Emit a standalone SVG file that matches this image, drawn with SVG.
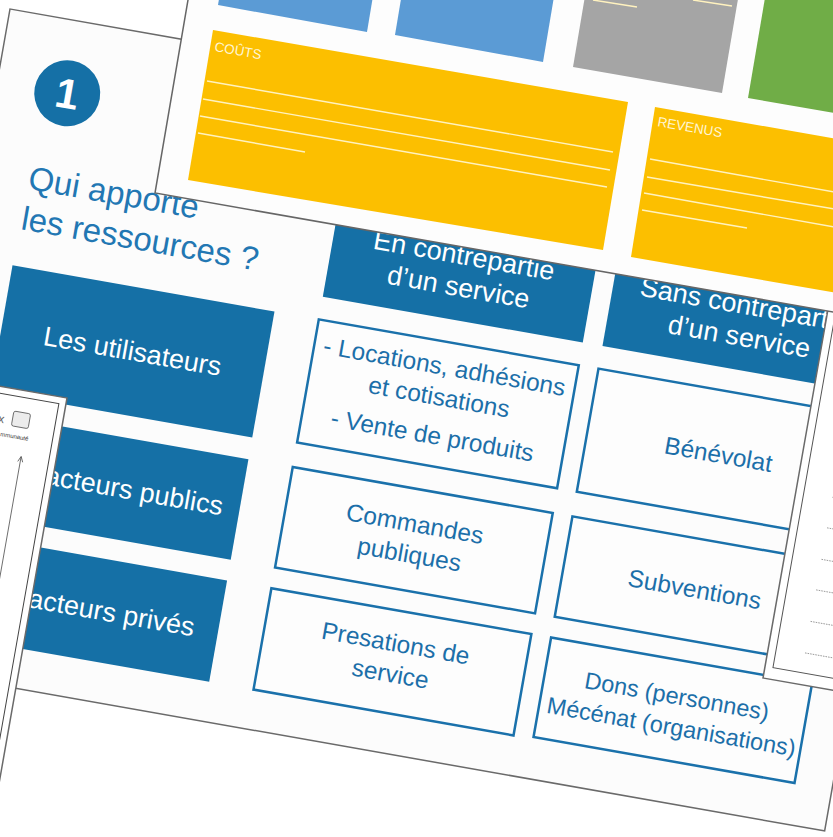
<svg xmlns="http://www.w3.org/2000/svg" width="833" height="837" viewBox="0 0 833 837">
<style>
text{font-family:"Liberation Sans",Arial,"Noto Sans",sans-serif}
.slide{fill:#fcfcfc;stroke:#6a6a6a;stroke-width:1.5}
.fb{fill:#1570a6}
.hd{fill:#ffffff;font-size:27px;text-anchor:middle}
.ob{fill:#fdfdfd;stroke:#1a71ab;stroke-width:2.5}
.bt{fill:#1c6fa9;font-size:24.5px;text-anchor:middle}
.wl{stroke:#fff2bf;stroke-width:1.4;fill:none}
.cl{fill:#fff6d6;font-size:13.5px}
.dot{stroke:#8a8a8a;stroke-width:0.8;stroke-dasharray:1.6 1}
</style>
<rect width="833" height="837" fill="#ffffff"/>

<g id="main-slide" transform="translate(10,9) rotate(10)">
  <rect class="slide" x="0" y="0" width="945" height="668"/>
  <g id="badge">
    <circle cx="71" cy="73" r="33" fill="#1570a6"/>
    <text x="71" y="88" fill="#ffffff" font-size="42" font-weight="bold" text-anchor="middle">1</text>
  </g>
  <g id="title" fill="#2277b3" font-size="33">
    <text x="48" y="174">Qui apporte</text>
    <text x="48" y="215">les ressources ?</text>
  </g>

  <g id="row-utilisateurs">
    <rect class="fb" x="47" y="252" width="266" height="128"/>
    <text class="hd" x="180" y="325">Les utilisateurs</text>
  </g>
  <g id="row-publics">
    <rect class="fb" x="47" y="402" width="266" height="102"/>
    <text class="hd" x="296" y="462" style="text-anchor:end">acteurs publics</text>
  </g>
  <g id="row-prives">
    <rect class="fb" x="47" y="525" width="266" height="103"/>
    <text class="hd" x="289" y="586" style="text-anchor:end">acteurs privés</text>
  </g>

  <g id="head-avec">
    <rect class="fb" x="358" y="130" width="264" height="99"/>
    <text class="hd" x="490" y="173">En contrepartie</text>
    <text class="hd" x="490" y="205">d’un service</text>
  </g>
  <g id="head-sans">
    <rect class="fb" x="642" y="130" width="265" height="99"/>
    <text class="hd" x="775" y="173">Sans contrepartie</text>
    <text class="hd" x="775" y="205">d’un service</text>
  </g>

  <g id="cell-locations">
    <rect class="ob" x="358" y="252" width="264" height="125"/>
    <text class="bt" x="490" y="285">- Locations, adhésions</text>
    <text class="bt" x="490" y="316">et cotisations</text>
    <text class="bt" x="490" y="355">- Vente de produits</text>
  </g>
  <g id="cell-commandes">
    <rect class="ob" x="358" y="402" width="264" height="102"/>
    <text class="bt" x="488" y="445">Commandes</text>
    <text class="bt" x="488" y="476">publiques</text>
  </g>
  <g id="cell-prestations">
    <rect class="ob" x="358" y="525" width="264" height="103"/>
    <text class="bt" x="490" y="566">Presations de</text>
    <text class="bt" x="490" y="597">service</text>
  </g>

  <g id="cell-benevolat">
    <rect class="ob" x="642" y="252" width="265" height="125"/>
    <text class="bt" x="775" y="324">Bénévolat</text>
  </g>
  <g id="cell-subventions">
    <rect class="ob" x="642" y="402" width="265" height="102"/>
    <text class="bt" x="775" y="461">Subventions</text>
  </g>
  <g id="cell-dons">
    <rect class="ob" x="642" y="525" width="265" height="101"/>
    <text class="bt" x="776" y="569" style="font-size:23.5px">Dons (personnes)</text>
    <text class="bt" x="776" y="600" style="font-size:23.5px">Mécénat (organisations)</text>
  </g>
</g>

<g id="left-slide" transform="translate(67,398) rotate(10)">
  <rect x="-400" y="0" width="400" height="700" fill="#ffffff" stroke="#6a6a6a" stroke-width="1.5"/>
  <rect x="-400" y="7" width="393" height="640" fill="none" stroke="#444" stroke-width="1"/>
  <text x="-58" y="36" font-size="12" fill="#666" text-anchor="end">x</text>
  <rect x="-50" y="22" width="17" height="15" rx="2" fill="#ececec" stroke="#555" stroke-width="0.8"/>
  <text x="-31" y="49" font-size="6" fill="#333" text-anchor="end">mmunauté</text>
  <line x1="-35" y1="66" x2="-35" y2="420" stroke="#555" stroke-width="0.8"/>
  <path d="M-37.5,71 L-35,65.5 L-32.5,71" fill="none" stroke="#555" stroke-width="0.8"/>
</g>

<g id="right-slide" transform="translate(763,678) rotate(10)">
  <rect x="0" y="-500" width="300" height="500" fill="#ffffff" stroke="#6a6a6a" stroke-width="1.5"/>
  <rect x="8" y="-500" width="292" height="488" fill="none" stroke="#555" stroke-width="1"/>
  <g class="dot">
    <line x1="37" y1="-190" x2="300" y2="-190"/>
    <line x1="37" y1="-159" x2="300" y2="-159"/>
    <line x1="37" y1="-127" x2="300" y2="-127"/>
    <line x1="37" y1="-96" x2="300" y2="-96"/>
    <line x1="37" y1="-64" x2="300" y2="-64"/>
    <line x1="37" y1="-32" x2="300" y2="-32"/>
  </g>
</g>

<g id="canvas-slide">
  <polygon points="188.5,-3 836,-3 836,312.5 155,193" fill="#fdfdfd" stroke="#666" stroke-width="1.5"/>
  <g id="canvas-blue-1"><polygon points="219,-1 372.5,-1 367,32 218,5" fill="#5b9bd5"/></g>
  <g id="canvas-blue-2"><polygon points="401,-1 553.6,-1 543,62 395,35" fill="#5b9bd5"/></g>
  <g id="canvas-gray">
    <polygon points="584.5,-1 738,-1 722,93 573,67" fill="#a5a5a5"/>
    <line class="wl" x1="593" y1="0" x2="637" y2="7" stroke="#f2f2f2"/>
    <line class="wl" x1="693" y1="0" x2="732" y2="6" stroke="#f2f2f2"/>
  </g>
  <g id="canvas-green"><polygon points="764.8,-1 834,-1 834,113 748,98" fill="#70ad47"/></g>
  <g id="canvas-couts">
    <polygon points="213,30 628,102 603,250 188,180" fill="#fcbf00"/>
    <text class="cl" transform="translate(214,51) rotate(10)">COÛTS</text>
    <line class="wl" x1="207" y1="81" x2="613" y2="152"/>
    <line class="wl" x1="203" y1="99" x2="610" y2="170"/>
    <line class="wl" x1="200" y1="116" x2="607" y2="187"/>
    <line class="wl" x1="198" y1="133" x2="305" y2="152"/>
  </g>
  <g id="canvas-revenus">
    <polygon points="655,107 834,138.5 834,292.5 631,257" fill="#fcbf00"/>
    <text class="cl" transform="translate(657,126) rotate(10)">REVENUS</text>
    <line class="wl" x1="650" y1="159" x2="834" y2="192"/>
    <line class="wl" x1="647" y1="177" x2="834" y2="209"/>
    <line class="wl" x1="644" y1="193" x2="834" y2="227"/>
    <line class="wl" x1="642" y1="210" x2="747" y2="228"/>
  </g>
</g>
</svg>
